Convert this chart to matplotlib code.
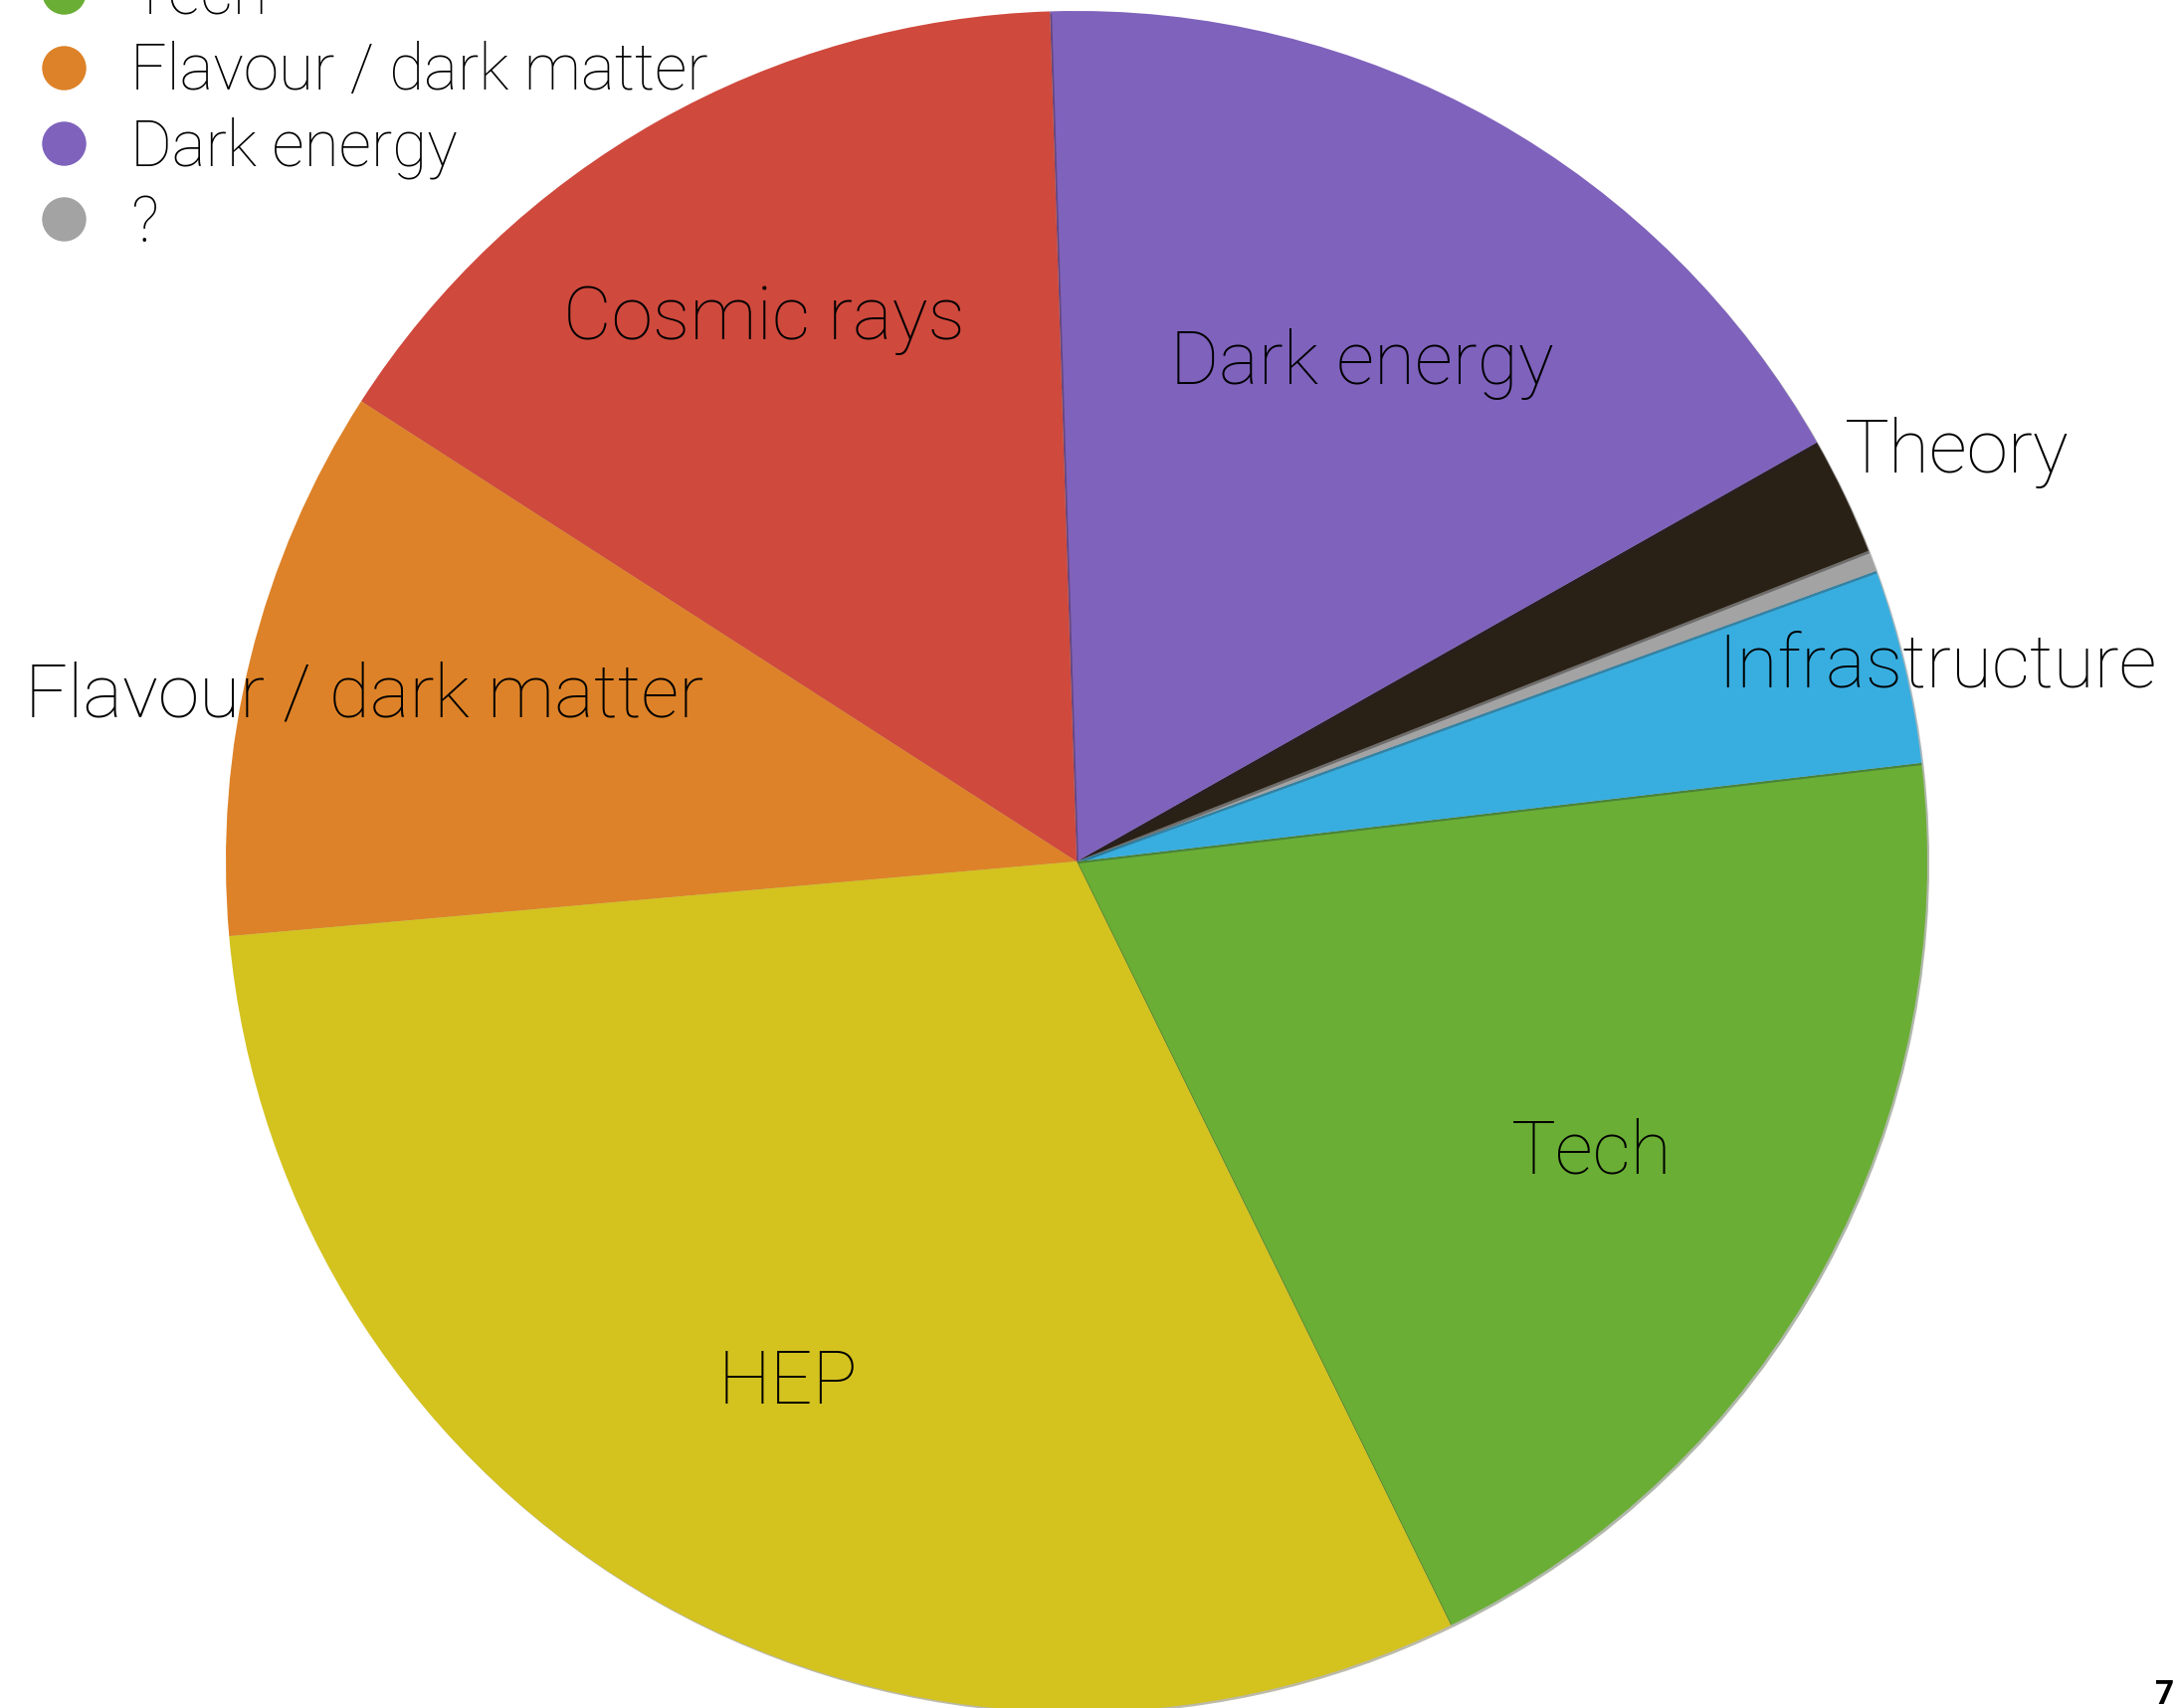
import matplotlib
matplotlib.use("Agg")
import matplotlib.pyplot as plt
import matplotlib.patheffects as pe
from matplotlib.lines import Line2D
import numpy as np

# share of each slice (percent), counter-clockwise from Tech
categories = ["Tech", "Infrastructure", "?", "Theory", "Dark energy",
              "Cosmic rays", "Flavour / dark matter", "HEP"]
shares = [19.6, 3.7, 0.4, 2.25, 17.3, 15.4, 10.5, 30.85]
colors = ["#6AAE35", "#38AEE0", "#A3A3A3", "#2A2116", "#7F62BC",
          "#CF493D", "#DD8228", "#D4C21F"]
# how far from the centre each label sits (fraction of radius)
label_r = [0.69, 1.04, None, 1.146, 0.684, 0.745, 0.862, 0.69]

legend_items = ["Tech", "Flavour / dark matter", "Dark energy", "?"]

plt.rcParams['font.family'] = ['Roboto', 'DejaVu Sans']

W, H = 2190, 1717
fig = plt.figure(figsize=(W / 100, H / 100), dpi=100)
cx, cy, R = 1082, 866, 855
ax = fig.add_axes([(cx - R) / W, (H - cy - R) / H, 2 * R / W, 2 * R / H])

wedges, _ = ax.pie(shares, colors=colors, startangle=-63.9, counterclock=True,
                   radius=1.0, wedgeprops=dict(linewidth=0))
for w in wedges:
    w.set_path_effects([pe.SimplePatchShadow(offset=(1.5, -1.5), alpha=0.35), pe.Normal()])
ax.set_xlim(-1, 1)
ax.set_ylim(-1, 1)
ax.set_aspect('equal')
ax.axis('off')

# labels at the middle of each wedge
for w, name, r in zip(wedges, categories, label_r):
    if r is None:
        continue
    mid = np.deg2rad((w.theta1 + w.theta2) / 2)
    ax.text(r * np.cos(mid), r * np.sin(mid) - 0.012, name, ha='center', va='center',
            fontsize=54, fontweight='light', color='black', clip_on=False)

# legend (top part falls outside the slide)
handles = [Line2D([], [], marker='o', linestyle='none', markersize=32,
                  markerfacecolor=colors[categories.index(n)], markeredgewidth=0)
           for n in legend_items]
fig.legend(handles, legend_items, loc='upper left', bbox_to_anchor=(0.0, 1.039),
           frameon=False, prop=dict(size=46, weight='light'),
           handletextpad=0.55, labelspacing=0.22, handlelength=1.0, borderpad=0)

fig.text(2166 / W, 1 - 1688 / H, "7", fontsize=24, fontweight='bold', ha='left', va='top')

fig.savefig("out.png", dpi=100)
